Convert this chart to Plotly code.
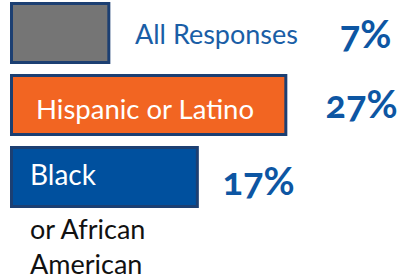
import plotly.graph_objects as go

categories = ["All Responses", "Hispanic or Latino", "Black or African American"]
values = [7, 27, 17]
fill_colors = ["#757575", "#F26522", "#00509E"]

W, H = 406, 280
FONT = "Lato"
BLUE_TXT = "#0D56A3"
BASE = -4  # bars in the reference start left of zero

fig = go.Figure()
fig.add_trace(go.Bar(
    y=categories, x=[v - BASE for v in values], orientation="h",
    base=BASE,
    width=0.82,
    marker=dict(color=fill_colors, line=dict(color="#1C3F72", width=3)),
    hoverinfo="skip",
))

# percentage labels
pct_pos = [(365, 33), (361, 103), (258, 180)]
for v, (px, py) in zip(values, pct_pos):
    fig.add_annotation(text=f"<b>{v}%</b>", xref="paper", yref="paper",
                       x=px / W, y=1 - py / H, showarrow=False,
                       xanchor="center", yanchor="middle",
                       font=dict(family=FONT, size=38, color=BLUE_TXT))

# category labels
fig.add_annotation(text=categories[0], xref="paper", yref="paper",
                   x=216 / W, y=1 - 33 / H, showarrow=False,
                   xanchor="center", yanchor="middle",
                   font=dict(family=FONT, size=27, color="#1A5EA6"))
fig.add_annotation(text=categories[1], xref="paper", yref="paper",
                   x=34 / W, y=1 - 109 / H, showarrow=False,
                   xanchor="left", yanchor="middle",
                   font=dict(family=FONT, size=27.5, color="white"))
words = categories[2].split(" ")
fig.add_annotation(text=words[0], xref="paper", yref="paper",
                   x=28 / W, y=1 - 174 / H, showarrow=False,
                   xanchor="left", yanchor="middle",
                   font=dict(family=FONT, size=28, color="white"))
fig.add_annotation(text=" ".join(words[1:3]) + "<br>" + words[3], xref="paper", yref="paper",
                   x=28 / W, y=1 - 246 / H, showarrow=False, align="left",
                   xanchor="left", yanchor="middle",
                   font=dict(family=FONT, size=27, color="#111111"))

fig.update_layout(
    width=W, height=H,
    margin=dict(l=0, r=0, t=0, b=0),
    paper_bgcolor="white", plot_bgcolor="white",
    showlegend=False,
    xaxis=dict(range=[-5.3, 40.58], visible=False, fixedrange=True),
    yaxis=dict(categoryorder="array", categoryarray=categories,
               range=[3.431, -0.458], visible=False, fixedrange=True),
)
post = """
document.body.style.margin = '0';
document.body.style.overflow = 'hidden';
document.querySelectorAll('.annotation-text').forEach(function(t){
  t.style.fontFeatureSettings = '"onum" 1';
});
"""
fig.write_html("out.html", config={"displayModeBar": False}, post_script=post)
